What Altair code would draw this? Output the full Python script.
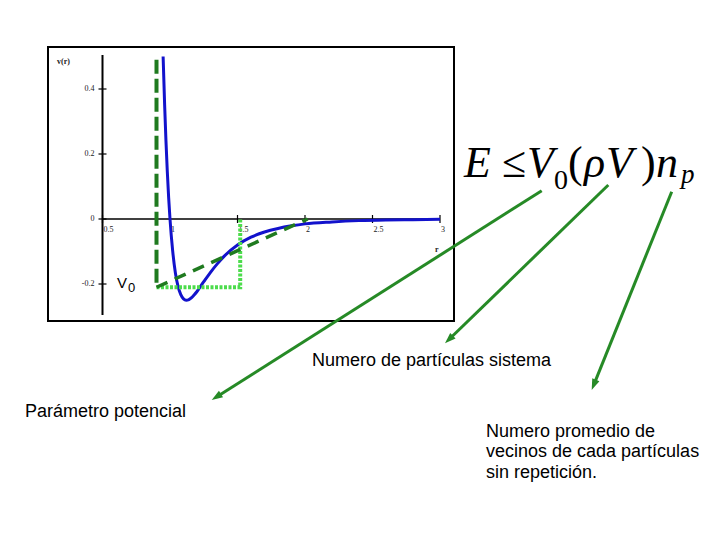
import math
import altair as alt
import pandas as pd

# ---------------- data ----------------
# potential curve v(r)
curve_r = [0.949, 0.96, 0.97, 0.98, 0.99, 1.00, 1.02, 1.04, 1.06, 1.08, 1.10, 1.12,
           1.14, 1.16, 1.18, 1.20, 1.25, 1.30, 1.35, 1.40, 1.50, 1.60, 1.70, 1.80,
           1.90, 2.00, 2.20, 2.40, 2.60, 2.80, 3.00]
curve_v = [0.50, 0.354, 0.241, 0.146, 0.066, 0.0, -0.099, -0.166, -0.208, -0.233,
           -0.246, -0.250, -0.248, -0.242, -0.233, -0.223, -0.193, -0.164, -0.138,
           -0.115, -0.080, -0.056, -0.040, -0.029, -0.021, -0.015, -0.009, -0.005,
           -0.003, -0.002, -0.001]

# hard wall (dark green dashed)
wall_r = [0.9, 0.9]
wall_v = [0.49, -0.21]
# sloped approximation (dark green dashed)
ramp_r = [0.9, 2.02]
ramp_v = [-0.21, 0.0]
# square well (light green dotted)
well_r = [0.9, 1.52, 1.52]
well_v = [-0.21, -0.21, 0.0]

# axis ticks
y_ticks = [0.4, 0.2, 0.0, -0.2]
y_tick_labels = ["0.4", "0.2", "0", "-0.2"]
x_ticks = [0.5, 1.0, 1.5, 2.0, 2.5, 3.0]
x_tick_labels = ["0.5", "1", "1.5", "2", "2.5", "3"]

# annotation texts
label_texts = ["Numero de partículas sistema", "Parámetro potencial",
               "Numero promedio de", "vecinos de cada partículas", "sin repetición."]
formula_italic = ["E", "V", "ρ", "V", "n", "p"]
formula_upright = ["≤", "0", "(", ")"]

# ---------------- layout (page pixels) ----------------
W, H = 704, 524
OFF = 8


def px_r(X):
    return 0.5 + (X - 102.5) / 135.0


def py_v(Y):
    return (219.0 - Y) / 325.0


XD = alt.Scale(domain=[px_r(OFF), px_r(OFF + W)], nice=False, zero=False)
YD = alt.Scale(domain=[py_v(OFF + H), py_v(OFF)], nice=False, zero=False)
XP = alt.Scale(domain=[OFF, OFF + W], nice=False, zero=False)
YP = alt.Scale(domain=[OFF, OFF + H], nice=False, zero=False, reverse=True)


def xd(f):
    return alt.X(f, type="quantitative", scale=XD, axis=None)


def yd(f):
    return alt.Y(f, type="quantitative", scale=YD, axis=None)


def xp(f):
    return alt.X(f, type="quantitative", scale=XP, axis=None)


def yp(f):
    return alt.Y(f, type="quantitative", scale=YP, axis=None)


BLUE = "#1212cc"
DKGREEN = "#1f7a1f"
LTGREEN = "#4cdc4c"
ARROW = "#268a26"
SANS = "Liberation Sans"
SERIF = "Liberation Serif"

layers = []

# frame
frame_df = pd.DataFrame({"x": [48], "y": [47], "x2": [454], "y2": [321]})
layers.append(alt.Chart(frame_df).mark_rect(fillOpacity=0, stroke="black", strokeWidth=2).encode(
    x=xp("x"), y=yp("y"), x2="x2:Q", y2="y2:Q"))

# axes lines
yaxis_df = pd.DataFrame({"r": [0.5], "v": [0.505], "v2": [-0.295]})
layers.append(alt.Chart(yaxis_df).mark_rule(color="black", strokeWidth=2).encode(
    x=xd("r"), y=yd("v"), y2="v2:Q"))
xaxis_df = pd.DataFrame({"r": [0.5], "r2": [3.0], "v": [0.0]})
layers.append(alt.Chart(xaxis_df).mark_rule(color="black", strokeWidth=1.5).encode(
    x=xd("r"), x2="r2:Q", y=yd("v")))

# ticks
yt_df = pd.DataFrame({"r": [0.5] * len(y_ticks), "v": y_ticks, "lab": y_tick_labels})
layers.append(alt.Chart(yt_df).mark_tick(orient="horizontal", size=8, thickness=1.2,
                                         color="black", opacity=1).encode(x=xd("r"), y=yd("v")))
layers.append(alt.Chart(yt_df).mark_text(align="right", baseline="middle", dx=-8, font=SERIF,
                                         fontSize=8, color="#222").encode(x=xd("r"), y=yd("v"), text="lab:N"))
xt_df = pd.DataFrame({"r": x_ticks, "v": [0.0] * len(x_ticks), "lab": x_tick_labels})
layers.append(alt.Chart(xt_df).mark_tick(orient="vertical", size=8, thickness=1.2,
                                         color="black", opacity=1).encode(x=xd("r"), y=yd("v")))
layers.append(alt.Chart(xt_df).mark_text(align="left", baseline="middle", dx=1, dy=11, font=SERIF,
                                         fontSize=8, color="#222").encode(x=xd("r"), y=yd("v"), text="lab:N"))

# axis titles
ttl_df = pd.DataFrame({"x": [57, 435], "y": [64, 252], "t": ["v(r)", "r"]})
layers.append(alt.Chart(ttl_df).mark_text(align="left", baseline="alphabetic", font=SERIF,
                                          fontSize=8, fontWeight="bold", color="#222").encode(
    x=xp("x"), y=yp("y"), text="t:N"))

# blue curve
curve_df = pd.DataFrame({"r": curve_r, "v": curve_v})
layers.append(alt.Chart(curve_df).mark_line(color=BLUE, strokeWidth=3, interpolate="monotone").encode(
    x=xd("r"), y=yd("v")))

# light green dotted well
well_df = pd.DataFrame({"r": well_r, "v": well_v, "o": list(range(len(well_r)))})
layers.append(alt.Chart(well_df).mark_line(color=LTGREEN, strokeWidth=4, strokeDash=[3, 1.5]).encode(
    x=xd("r"), y=yd("v"), order="o:Q"))

# dark green dashed wall and ramp
wall_df = pd.DataFrame({"r": wall_r, "v": wall_v, "o": [0, 1]})
layers.append(alt.Chart(wall_df).mark_line(color=DKGREEN, strokeWidth=4, strokeDash=[14, 5]).encode(
    x=xd("r"), y=yd("v"), order="o:Q"))
ramp_df = pd.DataFrame({"r": ramp_r, "v": ramp_v, "o": [0, 1]})
layers.append(alt.Chart(ramp_df).mark_line(color=DKGREEN, strokeWidth=3.5, strokeDash=[12, 8]).encode(
    x=xd("r"), y=yd("v"), order="o:Q"))

# V0 label
v0_df = pd.DataFrame({"x": [117, 128], "y": [287.5, 291.5], "t": ["V", "0"], "fs": [15, 13]})
layers.append(alt.Chart(v0_df).mark_text(align="left", baseline="alphabetic", font=SANS, color="black").encode(
    x=xp("x"), y=yp("y"), text="t:N", size=alt.Size("fs:Q", scale=None)))

# arrows
arrow_x0 = [541.7, 608.3, 671.7]
arrow_y0 = [190.7, 185.0, 191.7]
arrow_x1 = [211.7, 445.0, 591.7]
arrow_y1 = [400.0, 343.3, 390.0]
rows = []
for x0, y0, x1, y1 in zip(arrow_x0, arrow_y0, arrow_x1, arrow_y1):
    dx, dy = x1 - x0, y1 - y0
    L = math.hypot(dx, dy)
    ux, uy = dx / L, dy / L
    ang = math.degrees(math.atan2(dx, -dy)) % 360
    rows.append({"x0": x0, "y0": y0, "xe": x1 - 8 * ux, "ye": y1 - 8 * uy,
                 "xt": x1, "yt": y1, "ang": ang})
arr_df = pd.DataFrame(rows)
layers.append(alt.Chart(arr_df).mark_rule(color=ARROW, strokeWidth=3).encode(
    x=xp("x0"), y=yp("y0"), x2="xe:Q", y2="ye:Q"))
layers.append(alt.Chart(arr_df).mark_point(shape="M0,0L-0.7,2L0.7,2Z", filled=True, size=121,
                                           color=ARROW, opacity=1).encode(
    x=xp("xt"), y=yp("yt"), angle=alt.Angle("ang:Q", scale=None)))

# labels
lab_df = pd.DataFrame({"x": [312, 25, 486, 486, 486],
                       "y": [366, 416.5, 436.5, 457, 477.5],
                       "t": label_texts})
layers.append(alt.Chart(lab_df).mark_text(align="left", baseline="alphabetic", font=SANS,
                                          fontSize=18, color="black").encode(
    x=xp("x"), y=yp("y"), text="t:N"))

# formula  E <= V0 (rho V) n_p
fi_df = pd.DataFrame({"x": [464, 527, 584, 606, 656, 681],
                      "y": [177, 177, 177, 177, 177, 183],
                      "t": formula_italic, "fs": [44, 44, 44, 44, 44, 27]})
layers.append(alt.Chart(fi_df).mark_text(align="left", baseline="alphabetic", font=SERIF,
                                         fontStyle="italic", color="black").encode(
    x=xp("x"), y=yp("y"), text="t:N", size=alt.Size("fs:Q", scale=None)))
fu_df = pd.DataFrame({"x": [502, 554, 568, 641],
                      "y": [177, 189, 177, 177],
                      "t": formula_upright, "fs": [44, 28, 44, 44]})
layers.append(alt.Chart(fu_df).mark_text(align="left", baseline="alphabetic", font=SERIF,
                                         color="black").encode(
    x=xp("x"), y=yp("y"), text="t:N", size=alt.Size("fs:Q", scale=None)))

chart = alt.layer(*layers).resolve_scale(x="independent", y="independent").properties(
    width=W, height=H, autosize=alt.AutoSizeParams(type="none"), padding=0,
    background="white").configure_view(strokeWidth=0)

chart.save("out.html", embed_options={"renderer": "svg", "actions": False})
